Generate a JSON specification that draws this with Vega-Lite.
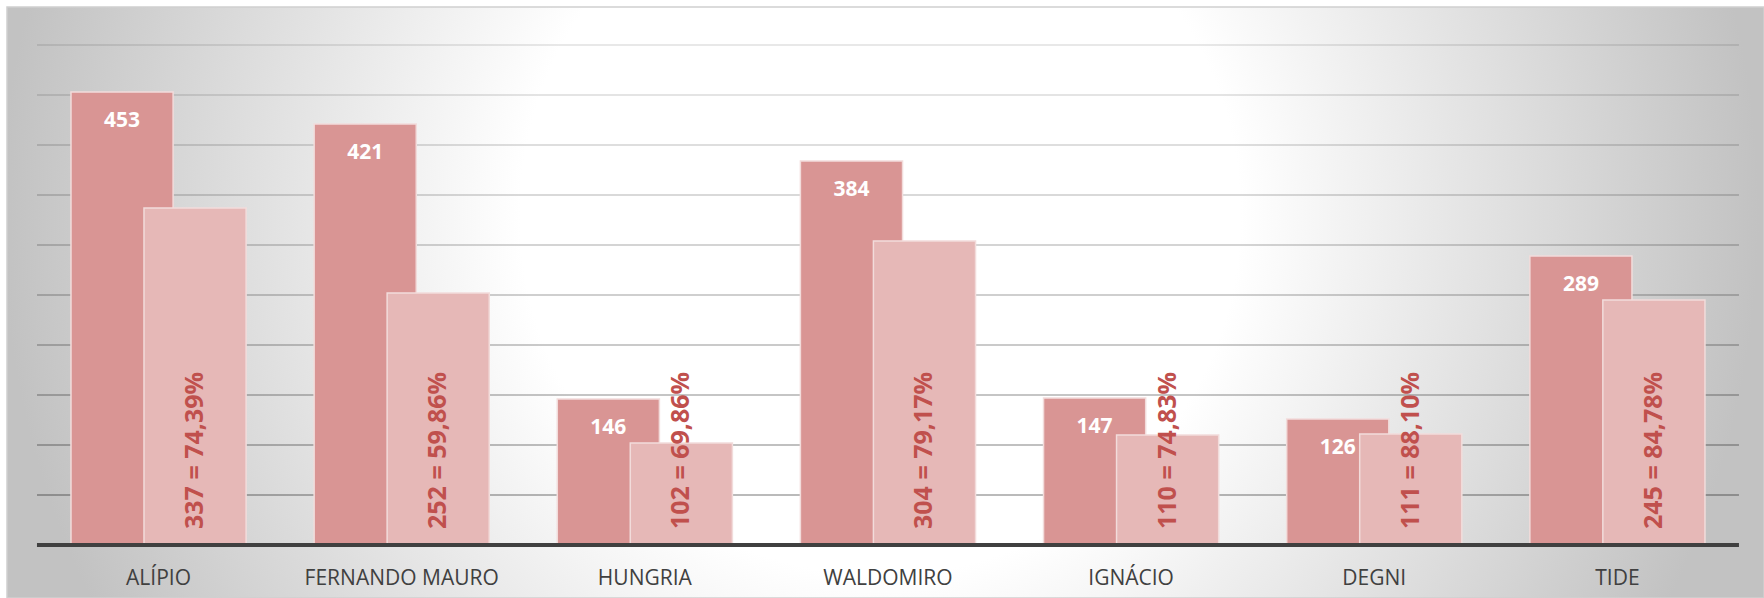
{
  "$schema": "https://vega.github.io/schema/vega-lite/v6.json",
  "width": 1757,
  "height": 591,
  "autosize": {"type": "none"},
  "padding": {"left": 7, "top": 7, "right": 0, "bottom": 0},
  "background": "#FFFFFF",
  "config": {
    "font": "Open Sans",
    "axisX": {"offset": -38, "labelPadding": 7, "labelLimit": 400, "domain": false, "ticks": false, "grid": false, "labelFontSize": 21, "labelColor": "#404040", "labelFont": "Open Sans", "labelAngle": 0, "labelBaseline": "top", "title": null},
    "view": {
      "fill": {"gradient": "radial", "x1": 0.497, "y1": 0.45, "r1": 0, "x2": 0.497, "y2": 0.45, "r2": 0.5,
        "stops": [
          {"offset": 0, "color": "#FFFFFF"},
          {"offset": 0.41, "color": "#FFFFFF"},
          {"offset": 1, "color": "#C2C2C2"}
        ]},
      "stroke": "#CFCFCF",
      "strokeWidth": 1.5
    }
  },
  "datasets": {
    "bars": [
      {"name": "ALÍPIO", "total": 453, "value": 337, "label": "337 = 74,39%"},
      {"name": "FERNANDO MAURO", "total": 421, "value": 252, "label": "252 = 59,86%"},
      {"name": "HUNGRIA", "total": 146, "value": 102, "label": "102 = 69,86%"},
      {"name": "WALDOMIRO", "total": 384, "value": 304, "label": "304 = 79,17%"},
      {"name": "IGNÁCIO", "total": 147, "value": 110, "label": "110 = 74,83%"},
      {"name": "DEGNI", "total": 126, "value": 111, "label": "111 = 88,10%"},
      {"name": "TIDE", "total": 289, "value": 245, "label": "245 = 84,78%"}
    ],
    "grid": [
      {"v": 50}, {"v": 100}, {"v": 150}, {"v": 200}, {"v": 250},
      {"v": 300}, {"v": 350}, {"v": 400}, {"v": 450}, {"v": 500}
    ]
  },
  "data": {"name": "bars"},
  "layer": [
    {
      "data": {"name": "grid"},
      "mark": {"type": "rule", "strokeWidth": 1.5, "stroke": "#000000"},
      "encoding": {
        "x": {"datum": "ALÍPIO", "type": "nominal", "bandPosition": 0, "title": null},
        "x2": {"datum": "TIDE", "bandPosition": 1},
        "y": {"field": "v", "type": "quantitative", "axis": null, "title": null},
        "opacity": {"field": "v", "type": "quantitative", "legend": null,
          "scale": {"domain": [50, 500], "range": [0.36, 0.12]}}
      }
    },
    {
      "mark": {"type": "bar", "width": {"band": 0.42}, "xOffset": -36.5, "fill": "#D99594", "stroke": "#F2DCDB", "strokeWidth": 1.5},
      "encoding": {
        "x": {"field": "name", "type": "nominal", "title": null,
          "scale": {"type": "band", "domain": ["ALÍPIO", "FERNANDO MAURO", "HUNGRIA", "WALDOMIRO", "IGNÁCIO", "DEGNI", "TIDE"], "paddingInner": 0, "paddingOuter": 0.1131, "align": 0.545}},
        "y": {"field": "total", "type": "quantitative", "axis": null, "title": null,
          "scale": {"domain": [-53, 538], "nice": false, "zero": false}}
      }
    },
    {
      "mark": {"type": "bar", "width": {"band": 0.42}, "xOffset": 36.5, "fill": "#E6B8B7", "stroke": "#F2DCDB", "strokeWidth": 1.5},
      "encoding": {
        "x": {"field": "name", "type": "nominal", "title": null},
        "y": {"field": "value", "type": "quantitative", "axis": null, "title": null}
      }
    },
    {
      "data": {"values": [{}]},
      "mark": {"type": "rule", "strokeWidth": 4, "stroke": "#404040"},
      "encoding": {
        "x": {"datum": "ALÍPIO", "type": "nominal", "bandPosition": 0, "title": null},
        "x2": {"datum": "TIDE", "bandPosition": 1},
        "y": {"datum": 0, "type": "quantitative", "axis": null, "title": null}
      }
    },
    {
      "mark": {"type": "text", "xOffset": -36.5, "dy": 29, "baseline": "middle", "align": "center", "fontWeight": "bold", "fontSize": 21, "fill": "#FFFFFF"},
      "encoding": {
        "x": {"field": "name", "type": "nominal", "title": null},
        "y": {"field": "total", "type": "quantitative", "axis": null, "title": null},
        "text": {"field": "total"}
      }
    },
    {
      "mark": {"type": "text", "xOffset": 36.5, "angle": 270, "align": "left", "baseline": "middle", "dx": 16, "fontWeight": "bold", "fontSize": 25, "fill": "#C0504D"},
      "encoding": {
        "x": {"field": "name", "type": "nominal", "title": null},
        "y": {"datum": 0, "type": "quantitative", "axis": null, "title": null},
        "text": {"field": "label"}
      }
    }
  ]
}
